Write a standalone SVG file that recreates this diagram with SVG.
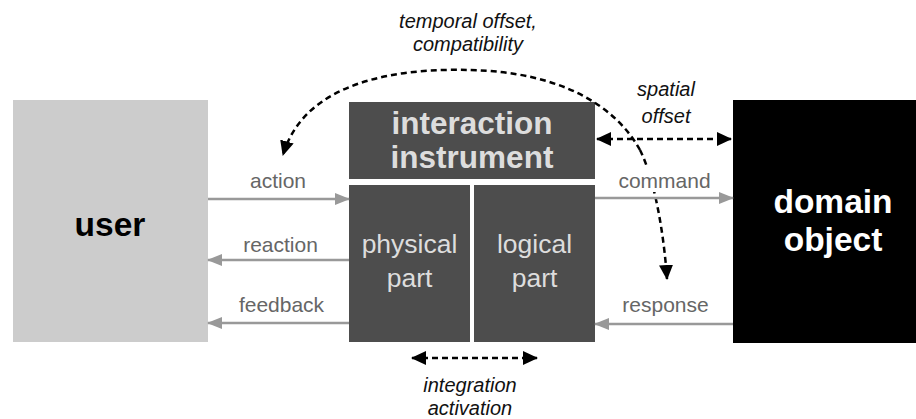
<svg xmlns="http://www.w3.org/2000/svg" width="916" height="419" viewBox="0 0 916 419">
<style>
.flow{stroke:#999;stroke-width:2.5;fill:none}
.dash{stroke:#000;stroke-width:2.5;fill:none;stroke-dasharray:6 4}
.lbl{font-family:"Liberation Sans",Arial,sans-serif;font-size:21px;fill:#666;text-anchor:middle}
.it{font-family:"Liberation Sans",Arial,sans-serif;font-size:20px;font-style:italic;fill:#111;text-anchor:middle}
.big{font-family:"Liberation Sans",Arial,sans-serif;font-weight:bold;text-anchor:middle}
.part{font-family:"Liberation Sans",Arial,sans-serif;font-size:26.5px;fill:#ddd;text-anchor:middle}
</style>
<defs>
<marker id="ga" markerUnits="userSpaceOnUse" markerWidth="16" markerHeight="12" refX="14" refY="6" orient="auto"><path d="M0,0 L15,6 L0,12 z" fill="#999"/></marker>
<marker id="ba" markerUnits="userSpaceOnUse" markerWidth="16" markerHeight="14" refX="14" refY="7" orient="auto"><path d="M0,0 L15,7 L0,14 z" fill="#000"/></marker>
<marker id="bs" markerUnits="userSpaceOnUse" markerWidth="16" markerHeight="14" refX="1" refY="7" orient="auto"><path d="M15,0 L0,7 L15,14 z" fill="#000"/></marker>
</defs>
<rect width="916" height="419" fill="#fff"/>
<g id="user"><rect x="13" y="100" width="195" height="242" fill="#ccc"/><text class="big" x="110" y="236" font-size="33.5" fill="#000">user</text></g>
<g id="instrument"><rect x="349" y="102" width="246" height="77" fill="#4d4d4d"/><text class="big" x="472" y="134" font-size="31.5" fill="#ddd">interaction</text><text class="big" x="472" y="168" font-size="31.5" fill="#ddd">instrument</text></g>
<g id="physical"><rect x="349" y="185" width="121" height="157" fill="#4d4d4d"/><text class="part" x="409.5" y="253">physical</text><text class="part" x="409.5" y="287">part</text></g>
<g id="logical"><rect x="474" y="185" width="121" height="157" fill="#4d4d4d"/><text class="part" x="534.5" y="253">logical</text><text class="part" x="534.5" y="287">part</text></g>
<g id="domain"><rect x="733" y="100" width="183" height="243" fill="#000"/><text class="big" x="833" y="213" font-size="33.5" fill="#fff">domain</text><text class="big" x="833" y="251" font-size="33.5" fill="#fff">object</text></g>
<g id="connectors">
<path class="dash" d="M640,150 C615,105 560,72 470,70 C400,68 305,80 283,155" marker-end="url(#ba)"/>
<path class="dash" d="M640,150 C655,180 664,235 667,279" marker-end="url(#ba)"/>
<line class="dash" x1="597" y1="139" x2="731" y2="139" marker-start="url(#bs)" marker-end="url(#ba)"/>
<line class="dash" x1="412" y1="358" x2="537" y2="358" marker-start="url(#bs)" marker-end="url(#ba)"/>
<line class="flow" x1="208" y1="199" x2="349" y2="199" marker-end="url(#ga)"/>
<line class="flow" x1="349" y1="260" x2="208" y2="260" marker-end="url(#ga)"/>
<line class="flow" x1="349" y1="323" x2="208" y2="323" marker-end="url(#ga)"/>
<rect x="640" y="168" width="26" height="24" fill="#fff"/>
<line class="flow" x1="595" y1="198" x2="733" y2="198" marker-end="url(#ga)"/>
<line class="flow" x1="733" y1="324" x2="595" y2="324" marker-end="url(#ga)"/>
<text class="lbl" x="278" y="188">action</text>
<text class="lbl" x="280.5" y="252">reaction</text>
<text class="lbl" x="281.5" y="312">feedback</text>
<text class="lbl" x="664.5" y="188">command</text>
<text class="lbl" x="665.5" y="312">response</text>
<text class="it" x="468" y="28">temporal offset,</text>
<text class="it" x="468" y="51">compatibility</text>
<text class="it" x="666" y="96">spatial</text>
<text class="it" x="666" y="123">offset</text>
<text class="it" x="470" y="392">integration</text>
<text class="it" x="470" y="415">activation</text>
</g>
</svg>
